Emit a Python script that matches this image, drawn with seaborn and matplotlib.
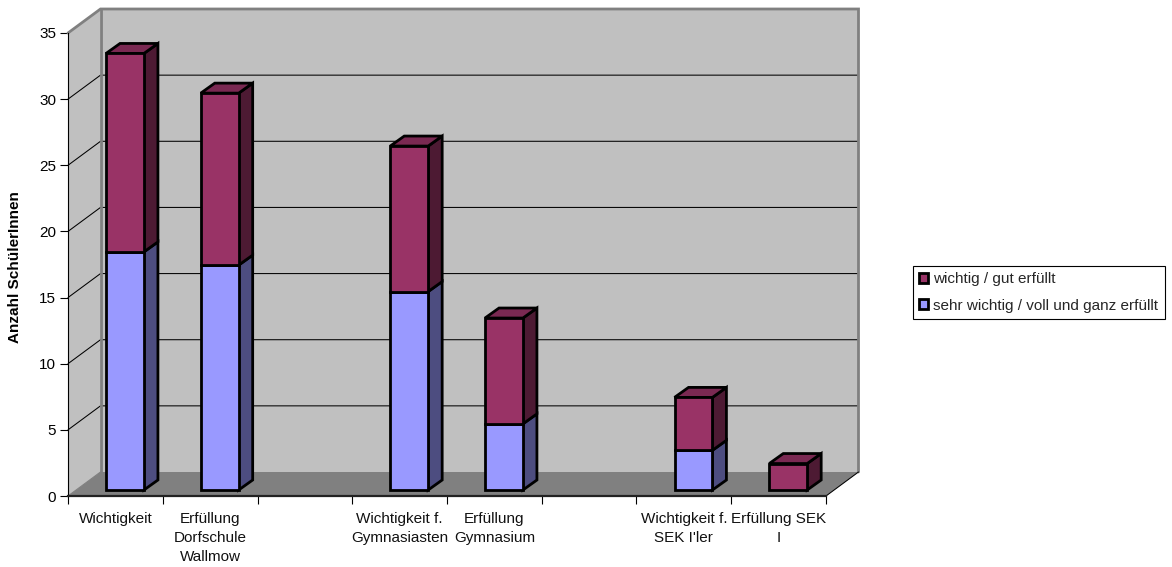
import matplotlib
matplotlib.use("Agg")
import matplotlib.pyplot as plt
from matplotlib.patches import Polygon, Patch
import seaborn as sns

categories = ["Wichtigkeit", "Erfüllung\nDorfschule\nWallmow", " ",
              "Wichtigkeit f.\nGymnasiasten", "Erfüllung\nGymnasium", "  ",
              "Wichtigkeit f.\nSEK I'ler", "Erfüllung SEK\nI"]
sehr_wichtig = [18, 17, 0, 15, 5, 0, 3, 0]
wichtig = [15, 13, 0, 11, 8, 0, 4, 2]
y_ticks = [0, 5, 10, 15, 20, 25, 30, 35]
label_upper = "wichtig / gut erfüllt"
label_lower = "sehr wichtig / voll und ganz erfüllt"
y_label = "Anzahl SchülerInnen"

W, H = 1172, 567
SLOT_PX = 94.75
UNIT_PX = 13.23
FONT = ["Liberation Sans", "DejaVu Sans"]
FS = 11

sns.set_theme(style="white")
plt.rcParams["font.family"] = FONT

fig = plt.figure(figsize=(W / 100, H / 100), dpi=100, facecolor="white")
ax = fig.add_axes([68 / W, (H - 496) / H, 758 / W, 463 / H], facecolor="none")


def px_x(p):
    return p / SLOT_PX


def px_y(p):
    return p / UNIT_PX


WALL_DX, WALL_DY = px_x(32.5), px_y(24)
BAR_DX, BAR_DY = px_x(9.6), px_y(6)
SIDE_DX, SIDE_DY = px_x(14), px_y(10)
x0, x1, y0, y1 = -0.5, 7.5, 0, 35

# Walls and floor
left_wall = [(x0, y0), (x0 + WALL_DX, y0 + WALL_DY), (x0 + WALL_DX, y1 + WALL_DY), (x0, y1)]
back_wall = [(x0 + WALL_DX, y0 + WALL_DY), (x1 + WALL_DX, y0 + WALL_DY),
             (x1 + WALL_DX, y1 + WALL_DY), (x0 + WALL_DX, y1 + WALL_DY)]
floor = [(x0, y0), (x1, y0), (x1 + WALL_DX, y0 + WALL_DY), (x0 + WALL_DX, y0 + WALL_DY)]
ax.add_patch(Polygon(left_wall, fc="#C0C0C0", ec="none", zorder=1, clip_on=False))
ax.add_patch(Polygon(back_wall, fc="#C0C0C0", ec="none", zorder=1, clip_on=False))
ax.add_patch(Polygon(floor, fc="#808080", ec="none", zorder=1.5, clip_on=False))
for t in y_ticks[1:-1]:
    ax.plot([x0, x0 + WALL_DX, x1 + WALL_DX], [t, t + WALL_DY, t + WALL_DY],
            color="black", lw=0.75, zorder=2, clip_on=False)
ax.plot([x0, x0 + WALL_DX, x1 + WALL_DX, x1 + WALL_DX],
        [y1, y1 + WALL_DY, y1 + WALL_DY, y0 + WALL_DY],
        color="#808080", lw=2, zorder=2.2, clip_on=False, solid_joinstyle="miter")
ax.plot([x0 + WALL_DX, x0 + WALL_DX], [y1 + WALL_DY, y0 + WALL_DY],
        color="#808080", lw=2, zorder=2.2, clip_on=False)
ax.plot([x0, x0 + WALL_DX], [y0, y0 + WALL_DY], color="#808080", lw=0.8, zorder=2.2, clip_on=False)
ax.plot([x1, x1 + WALL_DX], [y0, y0 + WALL_DY], color="black", lw=0.75, zorder=2.2, clip_on=False)

# Bars
style = dict(width=0.4, saturation=1, edgecolor="black", linewidth=2, ax=ax, zorder=5)
sns.barplot(x=categories, y=sehr_wichtig, color="#9999FF", order=categories, **style)
sns.barplot(x=categories, y=wichtig, bottom=sehr_wichtig, color="#993366", order=categories, **style)

series_faces = [("#4D4D80", None), ("#4D1A33", "#7A2952")]
for container, (side_c, top_c) in zip(ax.containers, series_faces):
    for bar in container:
        if bar.get_height() == 0:
            bar.set_visible(False)
            continue
        bar.set_x(bar.get_x() + BAR_DX)
        bar.set_y(bar.get_y() + BAR_DY)
        bar.set_clip_on(False)
        bar.set_joinstyle("miter")
        xl, yb, w, h = bar.get_x(), bar.get_y(), bar.get_width(), bar.get_height()
        xr, yt = xl + w, yb + h
        ax.add_patch(Polygon([(xr, yb), (xr + SIDE_DX, yb + SIDE_DY), (xr + SIDE_DX, yt + SIDE_DY), (xr, yt)],
                             fc=side_c, ec="black", lw=2, zorder=4, clip_on=False, joinstyle="miter"))
        if top_c:
            ax.add_patch(Polygon([(xl, yt), (xr, yt), (xr + SIDE_DX, yt + SIDE_DY), (xl + SIDE_DX, yt + SIDE_DY)],
                                 fc=top_c, ec="black", lw=2, zorder=4, clip_on=False, joinstyle="miter"))

# Axes
ax.set_xlim(x0, x1)
ax.set_ylim(y0, y1)
ax.set_yticks(y_ticks)
ax.set_yticklabels([str(t) for t in y_ticks], fontsize=FS, color="black")
ax.set_xticks(range(len(categories)))
ax.set_xticklabels(categories, fontsize=FS, color="#111111", linespacing=1.47, ha="center")
ax.set_xticks([i - 0.5 for i in range(len(categories) + 1)], minor=True)
ax.tick_params(axis="x", which="major", length=0, pad=11.5)
ax.tick_params(axis="x", which="minor", length=6, width=0.8, color="black", bottom=True)
ax.tick_params(axis="y", length=6, width=0.8, color="black", pad=2.5, left=True)
for s in ("top", "right"):
    ax.spines[s].set_visible(False)
ax.spines["left"].set_color("black")
ax.spines["left"].set_linewidth(0.8)
ax.spines["bottom"].set_color("#222222")
ax.spines["bottom"].set_linewidth(1.6)
ax.spines["bottom"].set_zorder(3)
ax.set_xlabel("")
fig.text(15 / W, 1 - 267 / H, y_label, rotation=90, fontsize=FS, fontweight="bold",
         ha="center", va="center", color="black")

# Legend
handles = [Patch(fc="#993366", ec="black", lw=2, label=label_upper),
           Patch(fc="#9999FF", ec="black", lw=2, label=label_lower)]
leg = fig.legend(handles=handles, loc="upper left", bbox_to_anchor=(912.5 / W, 1 - 266 / H),
                 bbox_transform=fig.transFigure, borderaxespad=0, fontsize=FS,
                 frameon=True, fancybox=False, edgecolor="black", framealpha=1,
                 handlelength=0.6, handleheight=0.6, handletextpad=0.35,
                 labelspacing=0.8, borderpad=0.42)
leg.get_frame().set_linewidth(0.8)

fig.savefig("out.png", dpi=100)
